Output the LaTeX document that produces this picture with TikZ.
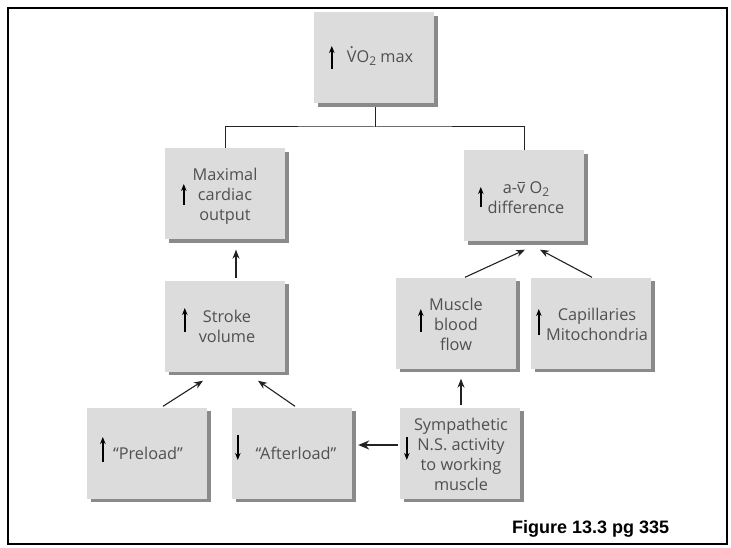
\documentclass[tikz,border=0pt]{standalone}
\usepackage{fontspec}
\setmainfont{Open Sans}
\newfontfamily\capfont{Liberation Sans}
\usetikzlibrary{calc,arrows.meta,shadows}
\definecolor{boxgray}{HTML}{DCDCDC}
\definecolor{shadgray}{HTML}{8A8A8A}
\definecolor{txtgray}{HTML}{505050}
\definecolor{linegray}{HTML}{222222}
\newcommand{\subtwo}{\raisebox{-0.35ex}{\fontsize{12}{12}\selectfont 2}}
\newcommand{\dotV}{\ooalign{V\cr\hidewidth\raisebox{0.84em}{.}\hidewidth\cr}}
\newcommand{\barv}{\ooalign{v\cr\hidewidth\raisebox{0.64em}{\rule{0.42em}{0.06em}}\hidewidth\cr}}
\begin{document}
\begin{tikzpicture}[x=1pt,y=-1pt,
  box/.style={fill=boxgray,draw=none,minimum width=120pt,minimum height=91pt,inner sep=0pt,
    drop shadow={shadow xshift=3.5pt,shadow yshift=-3.5pt,fill=shadgray,opacity=1}},
  txt/.style={text=txtgray,align=center,font=\fontsize{16.3}{20}\selectfont,inner sep=0pt},
  conn/.style={draw=linegray,line width=1pt},
  arr/.style={draw=linegray,line width=1.1pt,-{Stealth[length=9pt,width=7pt]}},
  thickarr/.style={draw=linegray,line width=2pt,-{Stealth[length=11pt,width=9pt]}},
  markarrow/.style={draw=black,line width=1.6pt,-{Stealth[length=7pt,width=5.5pt]}}]
\useasboundingbox (0,0) rectangle (731,548);
\fill[white] (0,0) rectangle (731,548);
\draw[line width=2pt] (8,7.7) rectangle (726.7,544);

% boxes
\node[box] (top) at (374,58) {};
\node[box] (cardiac) at (225,194) {};
\node[box] (av) at (524,196) {};
\node[box] (stroke) at (225,326) {};
\node[box] (muscle) at (456,323) {};
\node[box] (cap) at (591,323) {};
\node[box] (pre) at (147,453) {};
\node[box] (after) at (292,453) {};
\node[box] (sym) at (460,453) {};

% texts
\node[txt] (topT) at ($(top)+(6,0)$) {\dotV O\subtwo{} max};
\node[txt] (cardiacT) at ($(cardiac)+(0,2)$) {Maximal\\cardiac\\output};
\node[txt] (avT) at ($(av)+(2,2)$) {a-\barv{} O\subtwo\\difference};
\node[txt] (strokeT) at ($(stroke)+(2,0)$) {Stroke\\volume};
\node[txt] (muscleT) at ($(muscle)+(0,1)$) {Muscle\\blood\\flow};
\node[txt] (capT) at ($(cap)+(6,1)$) {Capillaries\\Mitochondria};
\node[txt] (preT) at ($(pre)+(1,0)$) {“Preload”};
\node[txt] (afterT) at ($(after)+(4,0)$) {“Afterload”};
\node[txt] (symT) at ($(sym)+(1,1)$) {Sympathetic\\N.S. activity\\to working\\muscle};

% marker arrows inside boxes
\draw[markarrow] ($(top.west)+(18,11)$) -- ++(0,-23);
\draw[markarrow] ($(cardiac.west)+(19,11)$) -- ++(0,-21);
\draw[markarrow] ($(av.west)+(17,11)$) -- ++(0,-20);
\draw[markarrow] ($(stroke.west)+(20,6)$) -- ++(0,-24);
\draw[markarrow] ($(muscle.west)+(25,9)$) -- ++(0,-23);
\draw[markarrow] ($(cap.west)+(8,12)$) -- ++(0,-26);
\draw[markarrow] ($(pre.west)+(16,9)$) -- ++(0,-25);
\draw[markarrow] ($(after.west)+(6,-18)$) -- ++(0,25);
\draw[markarrow] ($(sym.west)+(7,-16)$) -- ++(0,23);

% tree connector
\coordinate (j) at (375,127);
\draw[conn] ($(top.south)+(1,3.5)$) -- (j);
\draw[conn] (cardiac.north) |- (j) -| (av.north);

% arrows
\draw[arr] ($(stroke.north)+(11,-2)$) -- ($(cardiac.south)+(11,10)$);
\draw[arr] ($(pre.north)+(16,-1)$) -- ($(stroke.south)+(-22,9)$);
\draw[arr] ($(after.north)+(3,-1)$) -- ($(stroke.south)+(33,9)$);
\draw[arr] ($(muscle.north)+(9,0)$) -- ($(av.south)+(1,8)$);
\draw[arr] ($(cap.north)+(1,0)$) -- ($(av.south)+(16,8)$);
\draw[arr] ($(sym.north)+(1,-2)$) -- ($(muscle.south)+(5,10)$);
\draw[thickarr] ($(sym.west)+(-2,-8)$) -- ($(after.east)+(6,-8)$);

% caption
\node[anchor=base west,inner sep=0pt,font=\capfont\bfseries\fontsize{18}{20}\selectfont] (cap0) at (512,533) {Figure 13.3 pg 335};
\end{tikzpicture}
\end{document}
